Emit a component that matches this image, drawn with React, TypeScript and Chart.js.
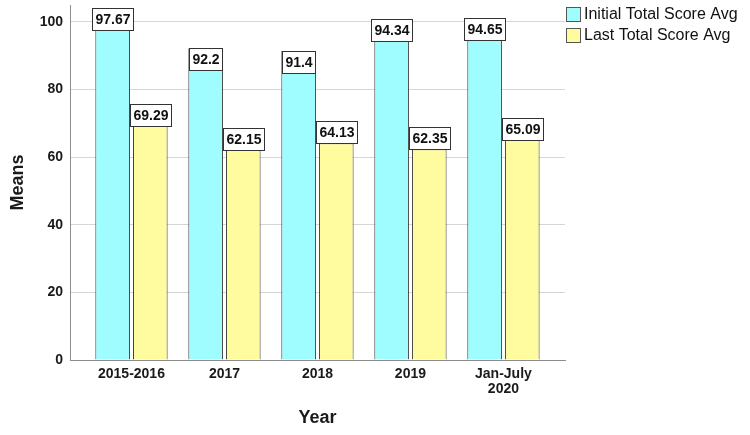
import React, { useEffect, useRef } from "react";
import { Chart, registerables } from "chart.js";

Chart.register(...registerables);

const categories: (string | string[])[] = ["2015-2016", "2017", "2018", "2019", ["Jan-July", "2020"]];
const initialAvg = [97.67, 92.2, 91.4, 94.34, 94.65];
const lastAvg = [69.29, 62.15, 64.13, 62.35, 65.09];
const seriesNames = ["Initial Total Score Avg", "Last Total Score Avg"];
const yTickValues = [0, 20, 40, 60, 80, 100];

const colors = ["#9ffcff", "#fffc9f"];
const FONT = "Arial, 'Liberation Sans', sans-serif";
// label drawn inside the top of the bar (true) or above it (false)
const labelInside = [
  [false, true, true, false, false],
  [false, false, false, false, false],
];

const boxLabelPlugin = {
  id: "boxLabels",
  afterDatasetsDraw(chart: any) {
    const ctx = chart.ctx;
    ctx.save();
    ctx.font = `bold 14px ${FONT}`;
    ctx.textAlign = "center";
    ctx.textBaseline = "middle";
    chart.data.datasets.forEach((ds: any, di: number) => {
      const meta = chart.getDatasetMeta(di);
      meta.data.forEach((bar: any, i: number) => {
        const text = String(ds.data[i]);
        const w = Math.round(ctx.measureText(text).width + 6);
        const h = 22;
        const inside = labelInside[di][i];
        const left = Math.round(bar.x - w / 2) + 0.5;
        const top = Math.round(inside ? bar.y : bar.y - h) + 0.5;
        ctx.fillStyle = "#ffffff";
        ctx.fillRect(left, top, w, h);
        ctx.strokeStyle = "#333333";
        ctx.lineWidth = 1;
        ctx.strokeRect(left, top, w, h);
        ctx.fillStyle = "#111111";
        ctx.fillText(text, left + w / 2, top + h / 2 + 1);
      });
    });
    ctx.restore();
  },
};

const legendPlugin = {
  id: "customLegend",
  afterDraw(chart: any) {
    const ctx = chart.ctx;
    ctx.save();
    ctx.font = `16px ${FONT}`;
    ctx.textAlign = "left";
    ctx.textBaseline = "middle";
    seriesNames.forEach((name, i) => {
      const y = 7 + i * 21;
      ctx.fillStyle = colors[i];
      ctx.fillRect(566.5, y + 0.5, 14, 14);
      ctx.strokeStyle = "#555555";
      ctx.lineWidth = 1;
      ctx.strokeRect(566.5, y + 0.5, 14, 14);
      ctx.fillStyle = "#111111";
      ctx.fillText(name, 584, y + 8);
    });
    ctx.restore();
  },
};

export default function App() {
  const canvasRef = useRef<HTMLCanvasElement | null>(null);

  useEffect(() => {
    document.body.style.margin = "0";
    const canvas = canvasRef.current;
    if (!canvas) return;
    const chart = new Chart(canvas, {
      type: "bar",
      data: {
        labels: categories as any,
        datasets: [
          {
            label: seriesNames[0],
            data: initialAvg,
            backgroundColor: colors[0],
            borderColor: "#3c3c3c",
            borderWidth: 1,
            categoryPercentage: 0.81,
            barPercentage: 0.92,
          },
          {
            label: seriesNames[1],
            data: lastAvg,
            backgroundColor: colors[1],
            borderColor: "#3c3c3c",
            borderWidth: 1,
            categoryPercentage: 0.81,
            barPercentage: 0.92,
          },
        ],
      },
      options: {
        responsive: false,
        animation: false,
        devicePixelRatio: 1,
        layout: { padding: { top: 5, right: 185, left: 0, bottom: 0 } },
        plugins: {
          legend: { display: false },
          tooltip: { enabled: false },
        },
        scales: {
          x: {
            type: "category",
            offset: true,
            grid: { display: false, drawTicks: false },
            border: { color: "#8c8c8c" },
            ticks: {
              font: { family: FONT, size: 14, weight: "bold", lineHeight: 1.1 },
              color: "#1a1a1a",
              padding: 6,
              maxRotation: 0,
              autoSkip: false,
            },
            title: {
              display: true,
              text: "Year",
              font: { family: FONT, size: 18, weight: "bold" },
              color: "#1a1a1a",
              padding: { top: 0, bottom: 6 },
            },
            afterFit: (s: any) => {
              s.height = 75;
            },
            afterBuildTicks: (s: any) => {
              s._startValue = -0.661;
              s._valueRange = 5.323;
            },
          },
          y: {
            min: 0,
            max: 105,
            grid: { color: "#d6d6d6", drawTicks: false },
            border: { color: "#8c8c8c" },
            ticks: {
              font: { family: FONT, size: 14, weight: "bold" },
              color: "#1a1a1a",
              padding: 7,
            },
            title: {
              display: true,
              text: "Means",
              font: { family: FONT, size: 18, weight: "bold" },
              color: "#1a1a1a",
              padding: { top: 7, bottom: 0 },
            },
            afterBuildTicks: (s: any) => {
              s.ticks = yTickValues.map((v) => ({ value: v }));
            },
            afterFit: (s: any) => {
              s.width = 70;
              s.paddingTop = 0;
              s.paddingBottom = 0;
            },
          },
        },
      } as any,
      plugins: [boxLabelPlugin, legendPlugin],
    });
    return () => chart.destroy();
  }, []);

  return (
    <div style={{ position: "absolute", left: 0, top: 0, width: 750, height: 435 }}>
      <canvas ref={canvasRef} width={750} height={435} />
    </div>
  );
}
